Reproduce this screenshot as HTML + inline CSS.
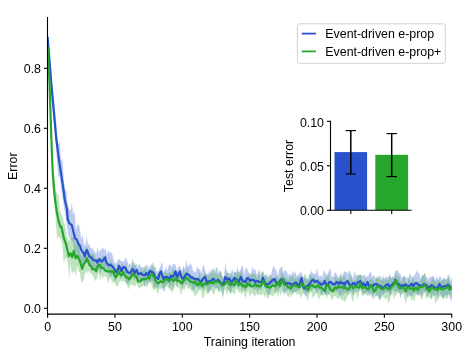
<!DOCTYPE html>
<html><head><meta charset="utf-8"><title>Training error</title>
<style>
html,body{margin:0;padding:0;background:#fff;}
body{width:476px;height:357px;overflow:hidden;}
svg{display:block;}
text{font-family:"Liberation Sans",sans-serif;font-size:12.4px;fill:#000;}
svg{will-change:transform;}
</style></head><body>
<svg width="476" height="357" viewBox="0 0 476 357">
<rect x="0" y="0" width="476" height="357" fill="#ffffff"/>
<defs><clipPath id="ax"><rect x="47.5" y="17" width="405" height="297.1"/></clipPath></defs>
<g clip-path="url(#ax)">
<!-- bands -->
<polygon points="47.6,35.8 48.9,46.1 50.3,61.6 51.6,75.6 53.0,94.4 54.3,100.8 55.7,116.1 57.0,132.7 58.4,144.2 59.7,141.9 61.1,162.4 62.4,157.6 63.8,179.5 65.1,189.1 66.5,191.4 67.8,206.1 69.2,209.2 70.5,210.8 71.8,203.1 73.2,213.7 74.5,212.0 75.9,229.4 77.2,225.5 78.6,223.8 79.9,228.7 81.3,239.4 82.6,235.1 84.0,243.8 85.3,246.7 86.7,236.4 88.0,244.9 89.4,243.8 90.7,248.2 92.1,248.2 93.4,249.6 94.7,251.3 96.1,254.6 97.4,246.9 98.8,252.7 100.1,250.7 101.5,249.1 102.8,247.4 104.2,249.8 105.5,249.0 106.9,255.3 108.2,249.7 109.6,252.7 110.9,252.1 112.3,254.6 113.6,258.9 114.9,263.6 116.3,263.0 117.6,260.2 119.0,258.7 120.3,260.2 121.7,261.1 123.0,262.1 124.4,260.8 125.7,257.1 127.1,260.3 128.4,265.6 129.8,262.9 131.1,265.4 132.5,258.0 133.8,265.2 135.2,265.0 136.5,263.8 137.8,266.8 139.2,263.3 140.5,266.1 141.9,267.5 143.2,267.0 144.6,268.3 145.9,264.9 147.3,265.0 148.6,268.3 150.0,265.9 151.3,264.9 152.7,262.5 154.0,268.7 155.4,266.1 156.7,271.5 158.1,271.3 159.4,268.5 160.7,265.7 162.1,261.2 163.4,271.9 164.8,271.0 166.1,266.3 167.5,270.5 168.8,265.1 170.2,264.6 171.5,267.2 172.9,264.4 174.2,263.7 175.6,264.9 176.9,270.7 178.3,267.3 179.6,265.7 181.0,268.8 182.3,270.7 183.6,265.6 185.0,269.6 186.3,259.7 187.7,267.1 189.0,265.3 190.4,263.6 191.7,265.5 193.1,270.5 194.4,272.2 195.8,272.6 197.1,266.0 198.5,269.2 199.8,268.9 201.2,273.2 202.5,267.3 203.9,264.4 205.2,270.9 206.5,274.4 207.9,275.5 209.2,270.0 210.6,273.4 211.9,268.3 213.3,270.5 214.6,274.5 216.0,267.9 217.3,267.0 218.7,273.7 220.0,270.1 221.4,273.3 222.7,277.5 224.1,275.2 225.4,262.6 226.8,272.5 228.1,272.9 229.4,272.7 230.8,273.3 232.1,268.4 233.5,272.5 234.8,271.8 236.2,272.5 237.5,266.3 238.9,272.3 240.2,271.0 241.6,265.5 242.9,267.1 244.3,275.0 245.6,267.4 247.0,268.7 248.3,271.9 249.6,273.2 251.0,274.3 252.3,265.9 253.7,271.1 255.0,268.4 256.4,274.6 257.7,274.1 259.1,268.7 260.4,274.9 261.8,271.0 263.1,271.4 264.5,274.7 265.8,274.7 267.2,277.6 268.5,276.7 269.9,274.3 271.2,274.8 272.5,268.5 273.9,265.6 275.2,269.1 276.6,271.2 277.9,276.3 279.3,269.0 280.6,267.8 282.0,265.9 283.3,273.3 284.7,270.0 286.0,270.5 287.4,273.0 288.7,275.3 290.1,272.9 291.4,277.2 292.8,270.0 294.1,274.6 295.4,271.3 296.8,276.5 298.1,277.0 299.5,273.7 300.8,271.2 302.2,274.2 303.5,279.7 304.9,276.3 306.2,279.6 307.6,279.1 308.9,275.7 310.3,272.9 311.6,270.8 313.0,273.8 314.3,273.6 315.7,274.0 317.0,268.1 318.3,275.1 319.7,276.8 321.0,275.2 322.4,277.7 323.7,269.7 325.1,271.9 326.4,277.3 327.8,273.3 329.1,270.2 330.5,268.7 331.8,276.6 333.2,277.1 334.5,272.8 335.9,272.6 337.2,275.3 338.6,277.1 339.9,277.7 341.2,271.8 342.6,276.9 343.9,271.0 345.3,271.7 346.6,272.0 348.0,273.9 349.3,269.8 350.7,273.4 352.0,277.4 353.4,277.1 354.7,270.8 356.1,275.3 357.4,276.5 358.8,275.0 360.1,274.8 361.5,275.9 362.8,276.0 364.1,274.0 365.5,278.5 366.8,276.3 368.2,276.1 369.5,273.1 370.9,271.5 372.2,277.8 373.6,274.5 374.9,277.1 376.3,278.2 377.6,278.7 379.0,276.9 380.3,275.1 381.7,280.3 383.0,278.3 384.4,278.2 385.7,276.9 387.0,276.8 388.4,277.4 389.7,274.3 391.1,277.5 392.4,276.7 393.8,276.2 395.1,271.2 396.5,270.2 397.8,270.1 399.2,272.9 400.5,274.4 401.9,278.2 403.2,275.7 404.6,277.2 405.9,277.0 407.2,278.0 408.6,277.0 409.9,272.6 411.3,277.3 412.6,276.4 414.0,275.9 415.3,274.2 416.7,270.4 418.0,272.7 419.4,273.9 420.7,278.9 422.1,275.1 423.4,275.8 424.8,272.7 426.1,277.1 427.5,277.7 428.8,279.4 430.1,276.6 431.5,276.9 432.8,276.1 434.2,277.1 435.5,281.2 436.9,275.6 438.2,279.9 439.6,275.7 440.9,277.5 442.3,280.8 443.6,276.4 445.0,279.4 446.3,279.4 447.7,278.4 449.0,273.5 450.4,280.3 451.7,277.2 451.7,299.5 450.4,300.7 449.0,292.9 447.7,296.1 446.3,294.8 445.0,295.5 443.6,298.3 442.3,296.9 440.9,296.5 439.6,291.5 438.2,298.0 436.9,295.0 435.5,294.3 434.2,296.4 432.8,293.7 431.5,298.7 430.1,292.5 428.8,294.3 427.5,296.8 426.1,291.3 424.8,292.6 423.4,290.8 422.1,297.9 420.7,292.8 419.4,294.7 418.0,295.8 416.7,294.9 415.3,293.1 414.0,292.9 412.6,295.6 411.3,296.2 409.9,296.2 408.6,296.6 407.2,297.8 405.9,292.1 404.6,290.7 403.2,293.5 401.9,291.6 400.5,299.3 399.2,292.4 397.8,292.2 396.5,290.3 395.1,292.9 393.8,289.2 392.4,290.6 391.1,295.3 389.7,295.5 388.4,291.9 387.0,292.5 385.7,291.6 384.4,293.6 383.0,294.2 381.7,294.8 380.3,300.0 379.0,299.4 377.6,295.8 376.3,296.0 374.9,291.4 373.6,294.4 372.2,298.2 370.9,294.1 369.5,295.9 368.2,292.8 366.8,292.1 365.5,293.9 364.1,292.4 362.8,294.6 361.5,289.8 360.1,287.5 358.8,292.4 357.4,289.7 356.1,292.0 354.7,290.8 353.4,296.3 352.0,290.9 350.7,292.6 349.3,291.1 348.0,294.9 346.6,291.9 345.3,294.8 343.9,291.1 342.6,296.7 341.2,292.7 339.9,297.9 338.6,294.1 337.2,290.9 335.9,293.0 334.5,289.9 333.2,292.5 331.8,289.7 330.5,291.3 329.1,295.1 327.8,293.0 326.4,294.9 325.1,294.1 323.7,289.2 322.4,295.1 321.0,296.1 319.7,289.3 318.3,291.5 317.0,294.1 315.7,290.4 314.3,288.3 313.0,288.6 311.6,291.5 310.3,290.3 308.9,292.4 307.6,291.9 306.2,296.4 304.9,295.6 303.5,292.8 302.2,287.7 300.8,286.3 299.5,290.9 298.1,290.0 296.8,291.1 295.4,291.3 294.1,291.8 292.8,295.3 291.4,290.1 290.1,293.1 288.7,289.5 287.4,289.5 286.0,293.2 284.7,294.4 283.3,293.1 282.0,285.1 280.6,286.8 279.3,289.0 277.9,290.9 276.6,289.9 275.2,294.3 273.9,285.6 272.5,286.1 271.2,289.4 269.9,294.7 268.5,294.9 267.2,293.3 265.8,289.6 264.5,287.7 263.1,284.2 261.8,289.0 260.4,290.6 259.1,288.4 257.7,293.1 256.4,288.6 255.0,289.3 253.7,290.4 252.3,287.8 251.0,287.4 249.6,286.9 248.3,287.3 247.0,288.6 245.6,290.1 244.3,290.9 242.9,287.3 241.6,292.4 240.2,284.2 238.9,289.2 237.5,287.3 236.2,284.9 234.8,287.7 233.5,287.3 232.1,288.2 230.8,294.6 229.4,291.9 228.1,290.3 226.8,285.2 225.4,284.4 224.1,288.0 222.7,296.4 221.4,289.4 220.0,288.1 218.7,291.8 217.3,288.1 216.0,289.4 214.6,287.5 213.3,286.0 211.9,286.9 210.6,289.8 209.2,293.1 207.9,294.1 206.5,286.8 205.2,285.9 203.9,290.7 202.5,288.8 201.2,287.2 199.8,288.2 198.5,289.2 197.1,285.5 195.8,285.3 194.4,289.4 193.1,292.7 191.7,288.1 190.4,284.0 189.0,287.1 187.7,280.8 186.3,285.1 185.0,283.2 183.6,284.6 182.3,290.2 181.0,283.9 179.6,281.8 178.3,281.5 176.9,287.2 175.6,279.4 174.2,282.2 172.9,290.7 171.5,282.5 170.2,290.1 168.8,283.8 167.5,283.4 166.1,284.7 164.8,291.4 163.4,291.1 162.1,287.5 160.7,278.8 159.4,285.0 158.1,287.7 156.7,287.8 155.4,285.9 154.0,289.3 152.7,281.1 151.3,281.6 150.0,282.7 148.6,280.7 147.3,285.9 145.9,279.8 144.6,287.5 143.2,281.1 141.9,281.2 140.5,281.2 139.2,281.6 137.8,280.1 136.5,278.7 135.2,278.5 133.8,281.0 132.5,275.6 131.1,277.8 129.8,279.2 128.4,284.5 127.1,283.5 125.7,281.0 124.4,276.4 123.0,275.1 121.7,278.5 120.3,278.4 119.0,273.4 117.6,276.9 116.3,278.7 114.9,282.6 113.6,275.7 112.3,275.1 110.9,276.2 109.6,276.5 108.2,270.4 106.9,271.5 105.5,266.7 104.2,273.1 102.8,267.5 101.5,270.2 100.1,274.9 98.8,267.8 97.4,272.5 96.1,273.0 94.7,267.5 93.4,267.7 92.1,270.8 90.7,266.1 89.4,268.0 88.0,263.4 86.7,260.1 85.3,263.2 84.0,266.5 82.6,268.4 81.3,261.6 79.9,259.9 78.6,255.1 77.2,257.6 75.9,251.0 74.5,256.7 73.2,242.0 71.8,241.4 70.5,236.3 69.2,239.1 67.8,232.9 66.5,222.9 65.1,213.9 63.8,206.3 62.4,196.0 61.1,189.0 59.7,175.4 58.4,178.0 57.0,161.8 55.7,141.9 54.3,128.7 53.0,111.0 51.6,101.6 50.3,80.1 48.9,57.7 47.6,38.8" fill="#2952cc" fill-opacity="0.3"/>
<polygon points="47.6,28.5 48.9,62.6 50.3,88.1 51.6,129.6 53.0,160.1 54.3,176.3 55.7,190.0 57.0,193.7 58.4,194.2 59.7,209.5 61.1,214.6 62.4,215.4 63.8,222.5 65.1,225.1 66.5,233.8 67.8,239.5 69.2,241.6 70.5,237.1 71.8,236.8 73.2,237.2 74.5,238.3 75.9,248.2 77.2,238.3 78.6,243.8 79.9,251.3 81.3,255.9 82.6,257.4 84.0,255.4 85.3,246.3 86.7,248.5 88.0,249.2 89.4,257.1 90.7,254.6 92.1,253.0 93.4,254.5 94.7,255.0 96.1,262.0 97.4,257.7 98.8,257.4 100.1,257.8 101.5,258.2 102.8,256.2 104.2,255.5 105.5,258.9 106.9,261.0 108.2,264.2 109.6,264.5 110.9,258.5 112.3,264.3 113.6,263.3 114.9,268.8 116.3,269.3 117.6,266.4 119.0,265.7 120.3,267.9 121.7,262.3 123.0,265.5 124.4,266.8 125.7,262.2 127.1,271.6 128.4,269.4 129.8,272.3 131.1,270.2 132.5,263.1 133.8,261.9 135.2,263.4 136.5,269.1 137.8,269.3 139.2,274.9 140.5,268.0 141.9,270.4 143.2,271.0 144.6,265.6 145.9,269.6 147.3,271.7 148.6,270.5 150.0,269.3 151.3,268.4 152.7,266.2 154.0,263.1 155.4,273.6 156.7,274.9 158.1,273.6 159.4,271.8 160.7,273.4 162.1,275.3 163.4,274.4 164.8,270.2 166.1,273.0 167.5,273.2 168.8,272.4 170.2,272.5 171.5,272.9 172.9,266.7 174.2,272.3 175.6,269.4 176.9,271.6 178.3,274.6 179.6,270.2 181.0,274.0 182.3,273.8 183.6,267.0 185.0,273.1 186.3,271.7 187.7,267.0 189.0,274.1 190.4,273.8 191.7,275.7 193.1,276.5 194.4,276.1 195.8,278.1 197.1,278.6 198.5,275.9 199.8,271.6 201.2,278.2 202.5,279.7 203.9,274.8 205.2,273.0 206.5,274.0 207.9,273.5 209.2,276.2 210.6,271.7 211.9,274.6 213.3,269.1 214.6,268.5 216.0,274.1 217.3,273.5 218.7,274.8 220.0,270.2 221.4,272.5 222.7,277.7 224.1,278.0 225.4,276.8 226.8,269.5 228.1,273.5 229.4,277.1 230.8,273.6 232.1,275.7 233.5,278.2 234.8,270.5 236.2,274.5 237.5,272.1 238.9,272.2 240.2,273.6 241.6,269.4 242.9,276.9 244.3,278.9 245.6,277.6 247.0,277.6 248.3,275.4 249.6,274.1 251.0,275.3 252.3,272.4 253.7,274.6 255.0,273.3 256.4,278.0 257.7,277.6 259.1,271.6 260.4,280.0 261.8,273.2 263.1,271.5 264.5,277.7 265.8,274.9 267.2,273.1 268.5,280.2 269.9,276.0 271.2,275.7 272.5,278.7 273.9,279.4 275.2,278.4 276.6,275.3 277.9,277.3 279.3,279.3 280.6,275.7 282.0,270.3 283.3,274.6 284.7,277.3 286.0,276.6 287.4,279.4 288.7,280.2 290.1,275.8 291.4,276.6 292.8,273.6 294.1,278.9 295.4,277.6 296.8,279.8 298.1,272.7 299.5,278.5 300.8,278.4 302.2,277.6 303.5,276.9 304.9,273.0 306.2,276.3 307.6,280.5 308.9,278.5 310.3,273.7 311.6,276.2 313.0,277.7 314.3,275.4 315.7,280.2 317.0,278.2 318.3,278.4 319.7,280.1 321.0,280.1 322.4,281.5 323.7,281.2 325.1,279.6 326.4,273.3 327.8,277.6 329.1,273.8 330.5,283.3 331.8,284.1 333.2,283.9 334.5,277.8 335.9,275.7 337.2,279.1 338.6,279.2 339.9,273.7 341.2,277.4 342.6,277.3 343.9,275.6 345.3,276.7 346.6,281.7 348.0,279.0 349.3,279.8 350.7,272.8 352.0,279.5 353.4,281.5 354.7,280.6 356.1,279.3 357.4,273.9 358.8,274.9 360.1,274.5 361.5,274.5 362.8,281.2 364.1,281.2 365.5,274.5 366.8,282.5 368.2,281.6 369.5,279.5 370.9,279.3 372.2,278.4 373.6,281.6 374.9,283.8 376.3,277.0 377.6,275.7 379.0,278.5 380.3,280.9 381.7,279.5 383.0,274.9 384.4,280.5 385.7,280.5 387.0,279.1 388.4,280.7 389.7,274.2 391.1,279.5 392.4,277.8 393.8,278.8 395.1,276.1 396.5,272.3 397.8,278.7 399.2,275.2 400.5,281.9 401.9,281.4 403.2,277.5 404.6,275.3 405.9,285.2 407.2,282.6 408.6,278.6 409.9,279.6 411.3,281.9 412.6,277.8 414.0,280.1 415.3,282.2 416.7,281.0 418.0,281.7 419.4,281.9 420.7,280.3 422.1,274.7 423.4,275.5 424.8,272.7 426.1,281.7 427.5,280.4 428.8,283.6 430.1,282.7 431.5,280.8 432.8,276.2 434.2,280.9 435.5,278.7 436.9,283.6 438.2,279.2 439.6,281.5 440.9,281.5 442.3,280.1 443.6,279.6 445.0,278.1 446.3,281.8 447.7,274.7 449.0,279.2 450.4,283.2 451.7,280.5 451.7,298.6 450.4,296.0 449.0,294.5 447.7,298.4 446.3,299.1 445.0,296.4 443.6,299.6 442.3,298.6 440.9,294.5 439.6,296.4 438.2,299.2 436.9,300.4 435.5,303.9 434.2,295.8 432.8,296.6 431.5,299.7 430.1,298.1 428.8,297.8 427.5,296.4 426.1,299.7 424.8,292.2 423.4,294.2 422.1,299.9 420.7,297.0 419.4,294.7 418.0,294.5 416.7,293.7 415.3,296.7 414.0,302.6 412.6,298.0 411.3,301.5 409.9,294.1 408.6,293.7 407.2,297.3 405.9,304.2 404.6,298.8 403.2,293.6 401.9,294.2 400.5,295.3 399.2,292.8 397.8,291.9 396.5,295.3 395.1,295.8 393.8,299.4 392.4,292.5 391.1,294.9 389.7,300.4 388.4,303.4 387.0,297.2 385.7,299.4 384.4,297.8 383.0,296.7 381.7,296.2 380.3,299.0 379.0,299.0 377.6,293.2 376.3,296.8 374.9,296.4 373.6,300.0 372.2,294.8 370.9,292.7 369.5,293.4 368.2,295.9 366.8,295.4 365.5,294.0 364.1,294.6 362.8,297.6 361.5,293.8 360.1,289.8 358.8,293.6 357.4,299.6 356.1,293.7 354.7,293.1 353.4,301.7 352.0,300.3 350.7,293.8 349.3,293.7 348.0,296.1 346.6,298.0 345.3,301.5 343.9,301.4 342.6,298.8 341.2,301.0 339.9,295.2 338.6,298.9 337.2,298.4 335.9,296.7 334.5,295.8 333.2,298.4 331.8,300.5 330.5,296.2 329.1,294.2 327.8,294.9 326.4,299.2 325.1,294.3 323.7,295.5 322.4,294.7 321.0,294.7 319.7,298.0 318.3,298.9 317.0,292.8 315.7,293.8 314.3,296.2 313.0,298.3 311.6,293.1 310.3,291.9 308.9,295.7 307.6,301.5 306.2,295.0 304.9,292.3 303.5,293.5 302.2,294.2 300.8,298.6 299.5,294.5 298.1,293.8 296.8,294.8 295.4,292.4 294.1,292.7 292.8,292.2 291.4,297.7 290.1,294.6 288.7,297.5 287.4,296.5 286.0,291.1 284.7,291.1 283.3,292.6 282.0,290.9 280.6,295.7 279.3,291.7 277.9,297.7 276.6,292.1 275.2,292.9 273.9,295.0 272.5,296.7 271.2,295.4 269.9,293.6 268.5,298.1 267.2,298.5 265.8,294.6 264.5,297.3 263.1,292.8 261.8,296.2 260.4,294.1 259.1,295.1 257.7,294.9 256.4,293.9 255.0,296.4 253.7,295.1 252.3,293.2 251.0,293.6 249.6,297.7 248.3,291.0 247.0,292.3 245.6,299.3 244.3,292.9 242.9,292.1 241.6,294.9 240.2,291.4 238.9,292.9 237.5,289.2 236.2,289.1 234.8,295.0 233.5,293.0 232.1,291.9 230.8,293.5 229.4,290.7 228.1,289.5 226.8,296.4 225.4,289.3 224.1,292.0 222.7,299.2 221.4,290.5 220.0,292.3 218.7,292.4 217.3,288.4 216.0,287.6 214.6,293.7 213.3,294.2 211.9,291.1 210.6,289.8 209.2,291.3 207.9,292.2 206.5,294.8 205.2,289.3 203.9,298.1 202.5,298.1 201.2,290.8 199.8,289.9 198.5,291.3 197.1,293.9 195.8,295.2 194.4,296.8 193.1,289.6 191.7,291.3 190.4,289.5 189.0,288.1 187.7,288.9 186.3,284.9 185.0,289.4 183.6,288.4 182.3,289.9 181.0,295.5 179.6,289.0 178.3,287.3 176.9,287.6 175.6,284.6 174.2,288.4 172.9,291.0 171.5,292.4 170.2,289.0 168.8,288.7 167.5,286.4 166.1,285.7 164.8,287.3 163.4,288.3 162.1,287.7 160.7,289.5 159.4,288.8 158.1,294.4 156.7,290.7 155.4,288.1 154.0,290.8 152.7,288.6 151.3,284.2 150.0,281.9 148.6,283.1 147.3,286.7 145.9,286.4 144.6,286.1 143.2,285.7 141.9,286.9 140.5,286.9 139.2,289.0 137.8,286.1 136.5,283.7 135.2,286.0 133.8,285.7 132.5,284.9 131.1,284.3 129.8,285.8 128.4,289.5 127.1,285.1 125.7,282.9 124.4,280.5 123.0,282.2 121.7,280.5 120.3,281.0 119.0,282.6 117.6,286.5 116.3,285.9 114.9,282.5 113.6,281.6 112.3,283.7 110.9,277.8 109.6,279.6 108.2,283.8 106.9,278.0 105.5,276.5 104.2,275.6 102.8,279.4 101.5,274.5 100.1,280.6 98.8,271.8 97.4,277.6 96.1,279.9 94.7,280.9 93.4,276.3 92.1,274.8 90.7,273.1 89.4,272.5 88.0,270.5 86.7,274.0 85.3,270.7 84.0,279.2 82.6,282.0 81.3,282.6 79.9,272.3 78.6,271.7 77.2,265.5 75.9,277.8 74.5,270.4 73.2,272.2 71.8,274.1 70.5,263.5 69.2,279.8 67.8,263.1 66.5,257.6 65.1,258.8 63.8,263.9 62.4,245.7 61.1,239.1 59.7,237.8 58.4,236.1 57.0,239.4 55.7,217.3 54.3,203.3 53.0,191.1 51.6,156.4 50.3,122.0 48.9,80.2 47.6,64.7" fill="#27a62c" fill-opacity="0.3"/>
<!-- lines -->
<polyline points="47.6,36.8 48.9,53.3 51.0,80.0 53.7,110.3 56.4,140.0 58.4,155.3 60.5,170.0 63.1,186.8 64.8,200.0 66.9,208.4 67.7,219.2 69.4,223.4 71.8,225.2 75.1,238.4 76.5,239.3 77.9,242.6 78.9,244.6 80.0,245.8 81.0,249.4 82.1,251.0 83.4,253.1 84.8,256.3 85.8,251.8 86.9,250.0 88.2,253.0 89.4,256.3 90.5,257.3 91.5,257.3 93.1,260.0 94.7,260.5 96.0,260.3 97.4,262.6 98.7,259.7 99.9,259.4 101.0,261.2 102.0,261.5 103.6,259.9 105.2,257.3 106.2,262.0 107.3,263.6 108.8,265.1 110.4,264.7 112.0,266.1 113.6,267.8 114.9,269.6 116.3,272.0 117.6,271.4 118.8,265.7 120.1,268.1 121.3,271.0 122.7,268.1 124.1,266.8 125.7,268.3 127.2,272.0 128.8,272.6 130.4,273.1 131.4,271.1 132.5,268.9 133.5,270.6 134.6,273.1 135.6,271.4 136.7,269.9 138.2,274.1 139.5,273.9 140.9,273.1 142.5,274.8 144.0,275.2 145.1,275.2 146.1,273.1 147.2,274.3 148.2,275.2 149.5,271.3 150.8,271.0 151.6,272.2 152.4,272.0 153.7,273.2 155.0,277.3 156.6,277.9 158.2,278.9 159.5,273.7 160.9,271.5 162.1,275.2 163.4,278.9 165.0,277.0 166.6,276.8 167.6,277.5 168.7,277.8 169.7,280.1 170.8,275.7 171.8,276.2 172.9,276.8 174.1,275.0 175.4,271.5 176.2,273.3 177.1,277.8 178.4,274.4 179.8,271.5 181.3,276.8 182.3,278.5 183.4,278.9 184.9,276.1 186.5,273.6 187.6,274.5 188.6,274.7 189.9,276.3 191.1,277.8 192.5,277.3 193.9,278.9 195.4,279.4 197.0,278.9 198.3,279.1 199.5,281.0 200.9,282.3 202.3,279.9 203.6,277.8 205.0,276.8 206.1,280.1 207.1,282.0 208.6,281.5 210.0,281.0 211.4,280.9 212.8,278.9 213.8,279.3 214.9,281.0 216.4,281.4 218.0,279.9 219.6,281.4 221.2,283.1 222.2,284.9 223.3,284.1 224.3,281.1 225.4,276.8 226.4,278.5 227.5,279.9 228.5,278.6 229.6,278.9 230.6,281.2 231.7,282.0 233.0,280.4 234.4,277.8 235.5,280.0 236.5,278.9 237.6,280.1 238.6,282.0 239.7,279.9 240.7,276.8 241.8,279.4 242.8,281.0 244.1,281.8 245.3,282.0 246.4,280.1 247.4,277.8 248.5,279.0 249.5,279.9 250.0,281.0 251.3,279.8 252.5,279.9 253.9,280.0 255.3,282.0 256.6,281.1 258.0,281.0 259.2,282.1 260.5,282.0 261.8,281.4 263.0,277.8 264.1,281.4 265.1,283.1 266.5,284.6 267.9,284.1 269.1,283.8 270.4,282.0 271.4,281.7 272.5,279.9 273.5,279.6 274.6,278.9 275.6,281.7 276.7,283.1 278.0,284.3 279.4,282.0 280.7,280.1 281.9,278.9 283.0,279.2 284.0,281.0 285.4,284.0 286.8,283.1 288.1,283.3 289.5,283.1 290.8,284.6 292.0,284.1 293.3,284.5 294.5,283.1 295.9,282.5 297.3,284.1 298.6,286.0 300.0,283.1 301.5,277.8 302.9,285.2 304.0,288.5 305.0,288.3 306.1,287.4 307.1,286.2 308.5,285.4 309.9,283.1 311.1,281.6 312.4,279.9 313.6,280.1 314.7,282.0 316.0,281.4 317.2,281.0 318.5,282.4 319.7,283.1 321.1,284.7 322.5,284.1 323.5,283.3 324.6,281.0 325.6,283.1 326.7,285.2 328.0,284.9 329.4,282.0 330.7,281.8 331.9,283.1 333.0,284.4 334.0,284.1 335.3,284.2 336.6,282.0 337.9,282.8 339.3,284.1 340.5,281.8 341.8,283.1 343.2,283.2 344.5,285.2 345.0,283.1 346.3,282.3 347.5,281.0 348.9,283.6 350.3,285.2 351.6,285.7 353.0,283.1 354.2,283.1 355.5,285.2 356.8,283.6 358.0,282.0 359.1,282.1 360.1,281.0 361.2,282.9 362.2,285.2 363.6,283.3 365.0,286.2 366.2,284.9 367.5,282.0 368.8,285.9 370.2,285.2 371.5,286.7 372.7,286.2 374.1,284.3 375.5,284.1 376.7,284.2 378.0,285.2 379.3,285.9 380.7,286.2 382.0,289.2 383.2,287.3 384.6,286.8 386.0,285.2 387.0,284.8 388.1,284.1 389.3,286.7 390.6,286.2 392.0,284.6 393.3,283.1 394.4,283.4 395.4,279.9 396.5,281.3 397.5,284.1 398.8,284.2 400.0,285.2 401.4,285.9 402.8,285.2 404.1,286.1 405.5,284.1 406.8,285.8 408.0,286.2 409.3,286.0 410.5,285.2 411.9,283.9 413.3,286.2 414.5,283.9 415.8,283.1 417.2,283.5 418.5,285.2 419.8,285.2 421.1,286.2 422.4,285.8 423.8,284.1 425.0,284.3 426.3,285.2 427.7,287.0 429.0,287.3 430.3,286.3 431.6,285.2 432.9,285.9 434.3,287.3 435.5,287.9 436.8,288.3 438.2,286.6 439.5,284.1 440.8,286.6 442.1,287.3 443.5,286.3 445.0,286.2 446.5,286.0 448.0,284.5 449.5,286.5 450.5,286.8 451.5,287.5" fill="none" stroke="#2952cc" stroke-width="2.2" stroke-linejoin="round" stroke-linecap="butt"/>
<polyline points="47.6,46.7 49.4,80.0 51.4,140.0 52.6,170.0 53.8,186.8 55.1,200.0 56.8,211.7 58.8,221.9 60.5,227.0 61.5,226.7 63.5,236.9 66.1,244.4 67.4,250.0 68.8,256.3 70.5,253.1 72.2,257.3 73.7,251.0 75.8,258.4 76.8,255.9 77.9,256.3 78.9,259.1 80.0,261.5 81.0,264.9 82.1,268.9 83.1,265.8 84.2,263.6 85.5,262.0 86.9,258.4 88.2,261.6 89.4,264.7 90.5,265.4 91.5,266.8 92.6,269.6 93.6,268.9 94.9,269.4 96.1,271.0 97.5,266.6 98.9,264.7 99.9,264.9 101.0,267.8 102.5,267.8 104.1,268.9 105.4,270.6 106.6,271.0 108.5,271.8 110.4,271.0 112.0,272.1 113.6,271.0 114.6,276.0 115.7,277.3 117.0,275.8 118.4,271.0 119.7,273.7 120.9,275.2 122.0,275.0 123.0,272.0 124.6,275.3 126.2,277.3 127.8,277.8 129.3,279.4 130.9,277.6 132.5,274.1 133.5,274.7 134.6,275.2 135.6,276.1 136.7,277.3 138.0,281.4 139.4,281.5 140.7,281.2 141.9,279.4 143.5,278.9 145.1,279.4 146.7,278.3 148.2,277.3 149.3,278.6 150.3,275.2 151.4,274.4 152.4,274.1 153.5,276.5 154.5,277.3 155.0,279.9 156.6,282.2 158.2,283.1 159.5,282.6 160.9,281.0 162.1,282.1 163.4,282.0 165.0,280.0 166.6,278.9 167.6,279.5 168.7,281.0 169.7,279.8 170.8,278.9 172.1,279.6 173.5,281.0 174.7,280.3 176.0,277.8 177.1,281.0 178.1,281.0 179.2,280.6 180.2,282.0 181.3,283.2 182.3,283.1 183.4,280.6 184.4,279.9 185.5,278.2 186.5,277.8 187.6,278.7 188.6,279.9 189.9,281.1 191.1,282.0 192.5,282.2 193.9,283.1 195.4,281.5 197.0,285.2 198.3,285.1 199.5,282.0 200.9,283.9 202.3,286.2 203.6,284.1 205.0,283.1 206.3,284.3 207.5,284.1 208.8,283.0 210.0,283.1 211.4,281.7 212.8,283.1 214.3,282.6 215.9,281.0 217.0,282.0 218.0,282.0 219.6,282.3 221.2,284.1 222.2,285.5 223.3,285.2 224.9,284.0 226.4,282.0 228.0,282.0 229.6,284.1 230.6,285.4 231.7,283.1 233.0,284.4 234.4,285.2 235.5,281.4 236.5,279.9 237.6,283.1 238.6,285.2 239.9,284.3 241.1,283.1 242.2,285.7 243.2,286.2 244.3,285.4 245.3,287.3 246.4,286.3 247.4,283.1 248.5,284.6 249.5,284.1 250.0,285.2 251.3,286.5 252.5,286.2 253.9,285.8 255.3,284.1 256.6,286.0 258.0,285.2 259.2,286.5 260.5,286.2 261.8,283.8 263.0,281.0 264.1,282.3 265.1,285.2 266.5,286.9 267.9,286.2 269.1,287.8 270.4,287.3 271.4,286.6 272.5,285.2 273.8,285.9 275.2,286.2 276.3,285.4 277.3,283.1 278.6,282.1 279.8,286.2 280.9,283.4 281.9,279.9 283.0,279.5 284.0,284.1 285.4,284.9 286.8,285.2 288.1,287.3 289.5,287.3 290.8,288.7 292.0,286.2 293.3,285.3 294.5,285.2 295.9,286.2 297.3,286.2 298.6,286.7 300.0,287.3 301.3,283.5 302.5,284.1 303.8,286.0 305.0,286.2 306.4,288.4 307.8,290.4 309.1,287.9 310.5,285.2 311.8,284.8 313.0,286.2 314.3,286.8 315.5,287.3 316.9,286.3 318.3,285.2 319.5,287.6 320.8,287.3 322.2,288.7 323.5,289.4 324.8,291.4 326.1,286.2 327.1,285.3 328.2,285.2 329.2,287.0 330.3,289.4 331.6,290.4 333.0,291.5 334.3,288.6 335.7,287.3 337.0,288.3 338.2,286.2 339.5,287.4 340.8,287.3 342.1,286.6 343.5,288.3 345.0,287.3 346.3,288.5 347.5,289.4 348.9,289.0 350.3,286.2 351.6,285.9 353.0,288.3 354.2,287.5 355.5,286.2 356.8,286.6 358.0,287.3 359.1,287.6 360.1,283.1 361.2,286.2 362.2,288.3 363.6,287.4 365.0,287.3 366.2,287.8 367.5,289.4 368.8,289.2 370.2,285.2 371.5,286.3 372.7,288.3 374.1,291.7 375.5,290.4 376.7,286.8 378.0,286.2 379.3,287.1 380.7,288.3 382.0,288.6 383.2,289.4 384.6,287.7 386.0,287.3 387.2,288.2 388.5,289.4 389.9,289.1 391.2,287.3 392.5,285.6 393.7,285.2 394.8,281.7 395.8,281.0 396.9,284.5 397.9,285.2 399.3,288.3 400.7,288.3 402.0,287.1 403.4,287.3 404.7,289.7 405.9,291.5 407.2,286.8 408.4,287.3 409.8,288.9 411.2,288.3 412.4,288.1 413.7,290.4 415.1,288.3 416.4,287.3 417.7,290.0 418.9,288.3 420.3,286.6 421.7,287.3 423.0,286.3 424.4,285.2 425.7,286.2 426.9,289.4 428.2,288.6 429.5,291.5 430.8,288.2 432.2,287.3 433.4,288.6 434.7,289.4 436.1,288.6 437.4,290.4 438.7,288.3 440.0,287.3 441.3,289.1 442.7,289.4 443.8,288.7 445.0,288.3 446.5,288.0 448.0,286.0 449.5,289.5 450.5,288.5 451.5,290.0" fill="none" stroke="#27a62c" stroke-width="2.2" stroke-linejoin="round" stroke-linecap="butt"/>
</g>
<!-- main axes spines -->
<g stroke="#000" stroke-width="1.1" fill="none">
<line x1="47.5" y1="17" x2="47.5" y2="314.5"/>
<line x1="47.1" y1="314.1" x2="452" y2="314.1"/>
<!-- y ticks -->
<line x1="43.9" y1="308.3" x2="47.5" y2="308.3"/>
<line x1="43.9" y1="248.3" x2="47.5" y2="248.3"/>
<line x1="43.9" y1="188.3" x2="47.5" y2="188.3"/>
<line x1="43.9" y1="128.3" x2="47.5" y2="128.3"/>
<line x1="43.9" y1="68.3" x2="47.5" y2="68.3"/>
<!-- x ticks -->
<line x1="47.6" y1="314.1" x2="47.6" y2="317.7"/>
<line x1="114.95" y1="314.1" x2="114.95" y2="317.7"/>
<line x1="182.3" y1="314.1" x2="182.3" y2="317.7"/>
<line x1="249.65" y1="314.1" x2="249.65" y2="317.7"/>
<line x1="317.0" y1="314.1" x2="317.0" y2="317.7"/>
<line x1="384.35" y1="314.1" x2="384.35" y2="317.7"/>
<line x1="451.7" y1="314.1" x2="451.7" y2="317.7"/>
</g>
<!-- y tick labels -->
<g text-anchor="end">
<text x="41" y="313.4">0.0</text>
<text x="41" y="253.4">0.2</text>
<text x="41" y="193.4">0.4</text>
<text x="41" y="133.4">0.6</text>
<text x="41" y="73.4">0.8</text>
</g>
<g text-anchor="middle">
<text x="47.6" y="331">0</text>
<text x="114.95" y="331">50</text>
<text x="182.3" y="331">100</text>
<text x="249.65" y="331">150</text>
<text x="317.0" y="331">200</text>
<text x="384.35" y="331">250</text>
<text x="451.7" y="331">300</text>
<text x="249.6" y="346">Training iteration</text>
<text transform="translate(17,166.2) rotate(-90)">Error</text>
</g>
<!-- legend -->
<rect x="297.4" y="23.8" width="147.9" height="39.5" rx="2.2" ry="2.2" fill="#fff" fill-opacity="0.8" stroke="#cccccc" stroke-width="0.9"/>
<line x1="301.8" y1="33.6" x2="315.9" y2="33.6" stroke="#2952cc" stroke-width="1.8"/>
<line x1="301.8" y1="51.4" x2="315.9" y2="51.4" stroke="#27a62c" stroke-width="1.8"/>
<text x="325.3" y="38">Event-driven e-prop</text>
<text x="325.3" y="55.8">Event-driven e-prop+</text>
<!-- inset -->
<rect x="334.5" y="152.1" width="32.6" height="58.1" fill="#2952cc"/>
<rect x="375.3" y="154.8" width="32.8" height="55.4" fill="#27a62c"/>
<g stroke="#000" stroke-width="1.5" fill="none">
<line x1="350.8" y1="130.6" x2="350.8" y2="174"/>
<line x1="391.7" y1="133.6" x2="391.7" y2="176.6"/>
</g>
<g stroke="#000" stroke-width="1.15" fill="none">
<line x1="345.6" y1="130.6" x2="356.0" y2="130.6"/>
<line x1="345.6" y1="174" x2="356.0" y2="174"/>
<line x1="386.5" y1="133.6" x2="396.9" y2="133.6"/>
<line x1="386.5" y1="176.6" x2="396.9" y2="176.6"/>
</g>
<g stroke="#000" stroke-width="1.1" fill="none">
<line x1="330.5" y1="120.8" x2="330.5" y2="210.8"/>
<line x1="330.1" y1="210.3" x2="411.6" y2="210.3"/>
<line x1="326.9" y1="121.3" x2="330.5" y2="121.3"/>
<line x1="326.9" y1="165.8" x2="330.5" y2="165.8"/>
<line x1="326.9" y1="210.3" x2="330.5" y2="210.3"/>
<line x1="350.8" y1="210.3" x2="350.8" y2="213.9"/>
<line x1="391.7" y1="210.3" x2="391.7" y2="213.9"/>
</g>
<g text-anchor="end">
<text x="324" y="126.8">0.10</text>
<text x="324" y="170.8">0.05</text>
<text x="324" y="214.8">0.00</text>
</g>
<text text-anchor="middle" transform="translate(292.9,166) rotate(-90)">Test error</text>
</svg>
</body></html>
